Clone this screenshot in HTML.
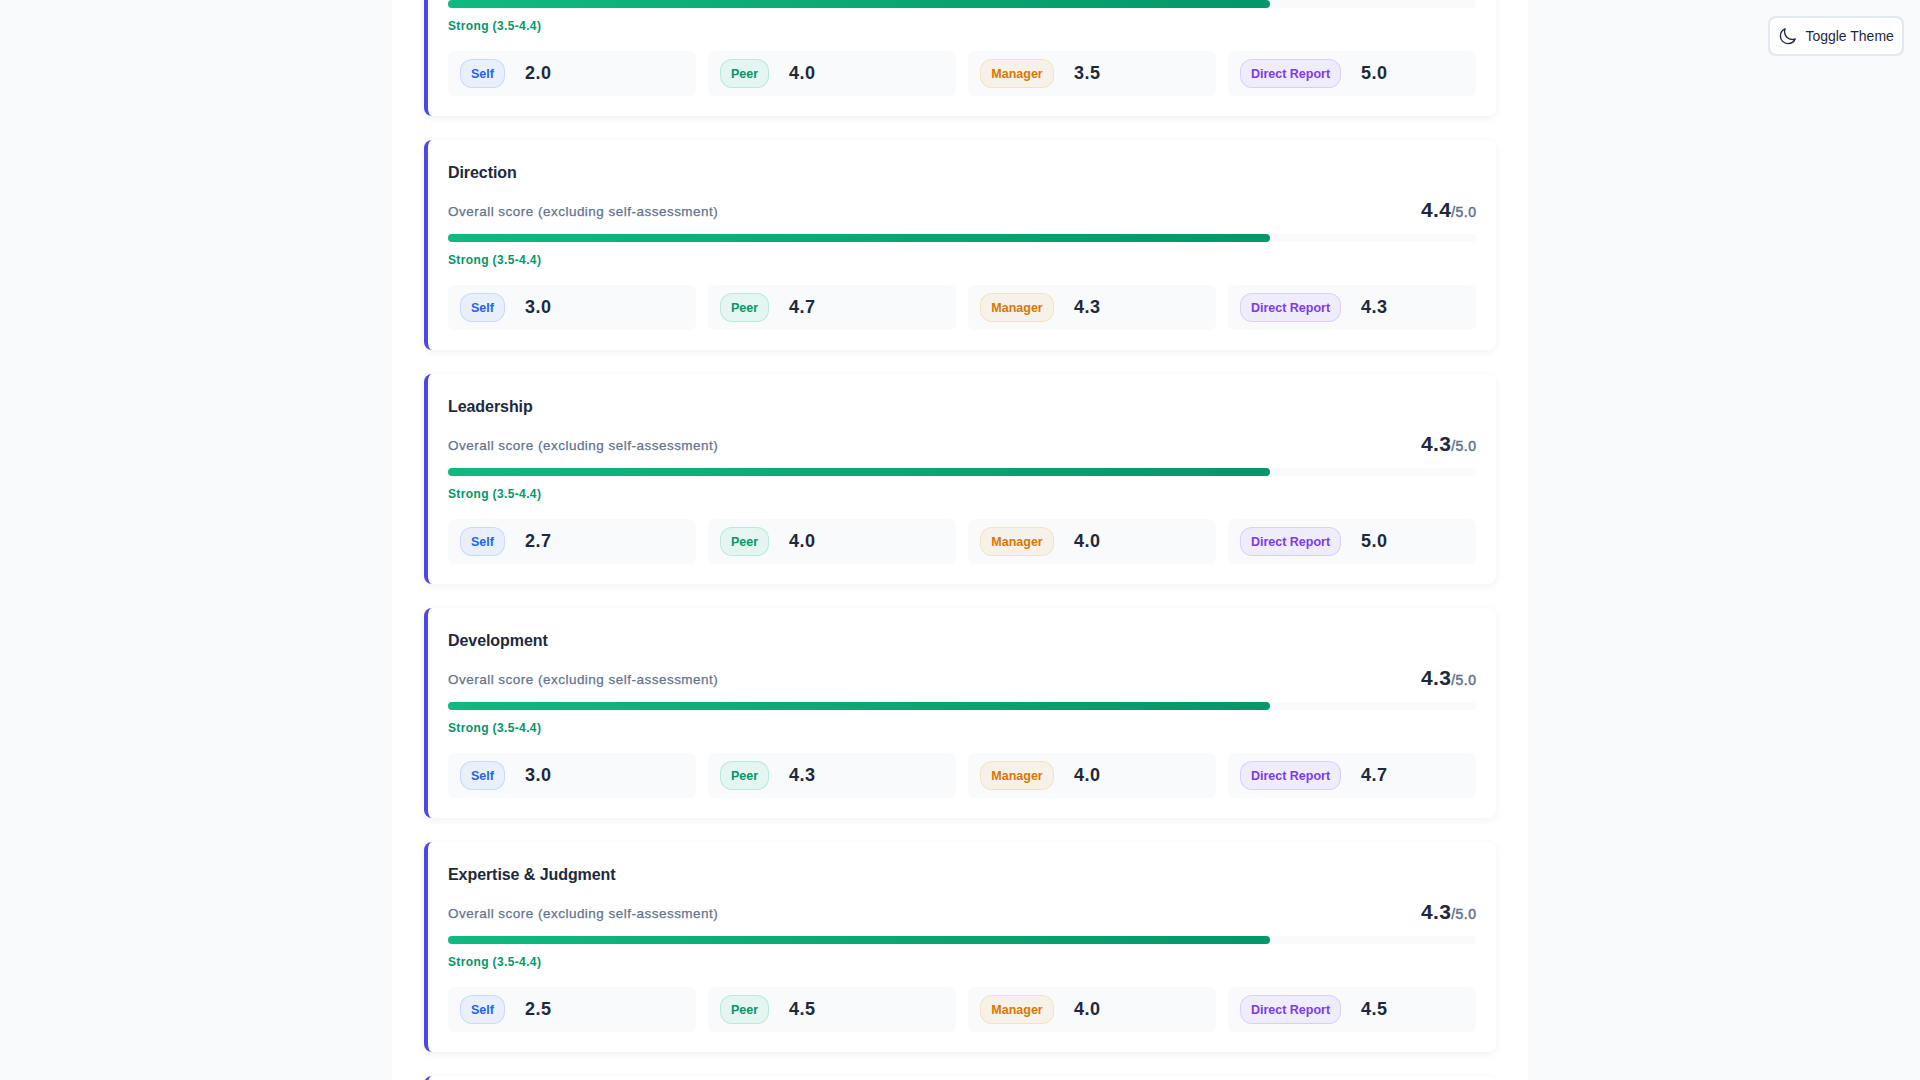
<!DOCTYPE html>
<html lang="en">
<head>
<meta charset="utf-8">
<title>360 Feedback Report</title>
<style>
*{box-sizing:border-box;margin:0;padding:0}
html,body{width:1920px;height:1080px;overflow:hidden}
body{background:#f8fafc;font-family:"Liberation Sans",Arial,sans-serif;color:#1e293b;position:relative}
.wrap{position:absolute;left:392px;top:-200px;width:1136px;height:1400px;background:#fff}
.card{position:absolute;left:32px;width:1072px;height:210px;background:#fff;border-left:4px solid #4f46e5;border-radius:8px;box-shadow:0 2px 8px rgba(0,0,0,.06)}
.card h3{position:absolute;left:20px;top:23px;font-size:16px;line-height:20px;font-weight:700;color:#1e293b;white-space:nowrap;letter-spacing:-.07px}
.lbl{position:absolute;left:20px;top:62px;font-size:13.5px;line-height:20px;color:#64748b;letter-spacing:.48px;white-space:nowrap;-webkit-text-stroke:.25px #64748b}
.score{position:absolute;right:20px;top:55px;font-size:21px;line-height:30px;font-weight:700;color:#1e293b;white-space:nowrap;letter-spacing:.4px}
.score span{font-size:14px;color:#64748b;font-weight:400;letter-spacing:.45px;-webkit-text-stroke:.5px #64748b;margin-right:-.45px}
.bar{position:absolute;left:20px;right:20px;top:94px;height:8px;border-radius:4px;background:#f8fafc}
.bar i{display:block;height:8px;width:80%;border-radius:4px;background:linear-gradient(90deg,#10b981,#059669)}
.lvl{position:absolute;left:20px;top:112px;font-size:12px;line-height:16px;font-weight:700;color:#059669;letter-spacing:.37px;white-space:nowrap}
.row{position:absolute;left:20px;right:20px;top:145px;height:45px;display:flex;gap:12px}
.box{flex:1;height:45px;border-radius:6px;background:#f8fafc;display:flex;align-items:center;padding:0 12px}
.pill{height:28.5px;border-radius:12px;font-size:12.5px;line-height:24.5px;padding-top:2px;font-weight:700;border:1px solid;text-align:center;white-space:nowrap}
.val{margin-left:20px;font-size:18px;font-weight:700;color:#1e293b;letter-spacing:.5px}
.self{width:45px;background:rgba(59,130,246,.08);border-color:rgba(59,130,246,.2);color:#2563eb}
.peer{width:49px;background:rgba(16,185,129,.08);border-color:rgba(16,185,129,.2);color:#059669}
.mgr{width:74px;background:rgba(245,158,11,.08);border-color:rgba(245,158,11,.2);color:#d97706}
.dr{width:101px;background:rgba(139,92,246,.08);border-color:rgba(139,92,246,.2);color:#7c3aed}
.btn{position:absolute;left:1768px;top:16px;width:136px;height:40px;border:2px solid #e2e8f0;border-radius:8px;background:#fff;font-size:14px;line-height:20px;color:#1e293b}
.btn svg{position:absolute;left:8.1px;top:8.8px}
.btn span{position:absolute;left:35.4px;top:8px;white-space:nowrap}
</style>
</head>
<body>
<div class="wrap">
<div class="card" style="top:106px"><h3>Communication</h3><div class="lbl">Overall score (excluding self-assessment)</div><div class="score">4.2<span>/5.0</span></div><div class="bar"><i></i></div><div class="lvl">Strong (3.5-4.4)</div><div class="row"><div class="box"><div class="pill self">Self</div><div class="val">2.0</div></div><div class="box"><div class="pill peer">Peer</div><div class="val">4.0</div></div><div class="box"><div class="pill mgr">Manager</div><div class="val">3.5</div></div><div class="box"><div class="pill dr">Direct Report</div><div class="val">5.0</div></div></div></div>
<div class="card" style="top:340px"><h3>Direction</h3><div class="lbl">Overall score (excluding self-assessment)</div><div class="score">4.4<span>/5.0</span></div><div class="bar"><i></i></div><div class="lvl">Strong (3.5-4.4)</div><div class="row"><div class="box"><div class="pill self">Self</div><div class="val">3.0</div></div><div class="box"><div class="pill peer">Peer</div><div class="val">4.7</div></div><div class="box"><div class="pill mgr">Manager</div><div class="val">4.3</div></div><div class="box"><div class="pill dr">Direct Report</div><div class="val">4.3</div></div></div></div>
<div class="card" style="top:574px"><h3>Leadership</h3><div class="lbl">Overall score (excluding self-assessment)</div><div class="score">4.3<span>/5.0</span></div><div class="bar"><i></i></div><div class="lvl">Strong (3.5-4.4)</div><div class="row"><div class="box"><div class="pill self">Self</div><div class="val">2.7</div></div><div class="box"><div class="pill peer">Peer</div><div class="val">4.0</div></div><div class="box"><div class="pill mgr">Manager</div><div class="val">4.0</div></div><div class="box"><div class="pill dr">Direct Report</div><div class="val">5.0</div></div></div></div>
<div class="card" style="top:808px"><h3>Development</h3><div class="lbl">Overall score (excluding self-assessment)</div><div class="score">4.3<span>/5.0</span></div><div class="bar"><i></i></div><div class="lvl">Strong (3.5-4.4)</div><div class="row"><div class="box"><div class="pill self">Self</div><div class="val">3.0</div></div><div class="box"><div class="pill peer">Peer</div><div class="val">4.3</div></div><div class="box"><div class="pill mgr">Manager</div><div class="val">4.0</div></div><div class="box"><div class="pill dr">Direct Report</div><div class="val">4.7</div></div></div></div>
<div class="card" style="top:1042px"><h3>Expertise &amp; Judgment</h3><div class="lbl">Overall score (excluding self-assessment)</div><div class="score">4.3<span>/5.0</span></div><div class="bar"><i></i></div><div class="lvl">Strong (3.5-4.4)</div><div class="row"><div class="box"><div class="pill self">Self</div><div class="val">2.5</div></div><div class="box"><div class="pill peer">Peer</div><div class="val">4.5</div></div><div class="box"><div class="pill mgr">Manager</div><div class="val">4.0</div></div><div class="box"><div class="pill dr">Direct Report</div><div class="val">4.5</div></div></div></div>
<div class="card" style="top:1276px"><h3>Execution</h3><div class="lbl">Overall score (excluding self-assessment)</div><div class="score">4.2<span>/5.0</span></div><div class="bar"><i></i></div><div class="lvl">Strong (3.5-4.4)</div><div class="row"><div class="box"><div class="pill self">Self</div><div class="val">3.0</div></div><div class="box"><div class="pill peer">Peer</div><div class="val">4.0</div></div><div class="box"><div class="pill mgr">Manager</div><div class="val">4.0</div></div><div class="box"><div class="pill dr">Direct Report</div><div class="val">4.5</div></div></div></div>
</div>
<div class="btn"><svg width="19" height="19" viewBox="0 0 24 24" fill="none" stroke="#1e293b" stroke-width="1.7" stroke-linecap="round" stroke-linejoin="round"><path d="M21.752 15.002A9.72 9.72 0 0 1 18 15.75c-5.385 0-9.75-4.365-9.75-9.75 0-1.33.266-2.597.748-3.752A9.753 9.753 0 0 0 3 11.25C3 16.635 7.365 21 12.75 21a9.753 9.753 0 0 0 9.002-5.998Z"/></svg><span>Toggle Theme</span></div>
</body>
</html>
